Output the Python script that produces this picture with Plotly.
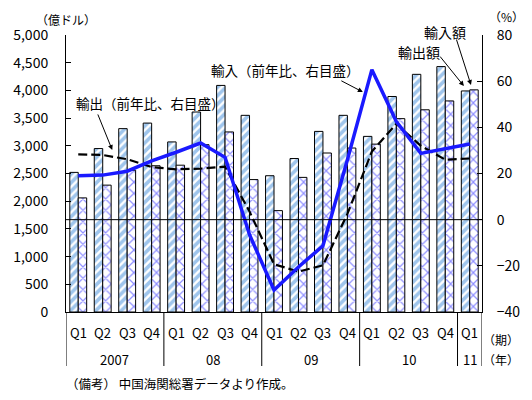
import plotly.graph_objects as go

# ---- data ----
quarters = ["Q1", "Q2", "Q3", "Q4"] * 4 + ["Q1"]
years = ["2007", "08", "09", "10", "11"]
export_bn = [2520, 2950, 3310, 3410, 3070, 3610, 4090, 3550, 2460, 2770, 3260, 3550, 3170, 3890, 4290, 4430, 3990]
import_bn = [2060, 2290, 2560, 2640, 2650, 3020, 3250, 2390, 1830, 2430, 2870, 2960, 3030, 3490, 3650, 3810, 4010]
export_yoy = [28.3, 28.0, 26.2, 22.8, 21.8, 22.1, 23.0, 3.5, -19.3, -22.5, -19.8, 2.5, 29.5, 41.5, 32.0, 26.0, 26.5]
import_yoy = [19.0, 19.3, 21.0, 25.5, 29.2, 33.2, 27.0, -6.5, -30.5, -20.5, -11.3, 26.0, 65.0, 42.5, 28.7, 30.8, 32.8]
left_ticks = [0, 500, 1000, 1500, 2000, 2500, 3000, 3500, 4000, 4500, 5000]
left_ticktext = ["0", "500", "1,000", "1,500", "2,000", "2,500", "3,000", "3,500", "4,000", "4,500", "5,000"]
right_ticks = [-40, -20, 0, 20, 40, 60, 80]

FONT = "Noto Sans CJK JP"
xs = list(range(len(quarters)))

# plot box in pixels
L, R, T, B = 66, 486, 35, 312
def px(x):
    return (x - L) / (R - L)
def py(y):
    return (B - y) / (B - T)

fig = go.Figure()
fig.add_trace(go.Bar(
    x=xs, y=export_bn, name="輸出額", yaxis="y",
    marker=dict(color="white", line=dict(color="black", width=1),
                pattern=dict(shape="/", fgcolor="#3F8BD9", bgcolor="white", size=6, solidity=0.6)),
))
fig.add_trace(go.Bar(
    x=xs, y=import_bn, name="輸入額", yaxis="y",
    marker=dict(color="white", line=dict(color="black", width=1),
                pattern=dict(shape="x", fgcolor="#1F1FFF", bgcolor="white", size=8, solidity=0.28)),
))
fig.add_trace(go.Scatter(
    x=xs, y=export_yoy, yaxis="y2", mode="lines", name="輸出(前年比)",
    line=dict(color="black", width=2.2, dash="9px,4px"),
))
fig.add_trace(go.Scatter(
    x=xs, y=import_yoy, yaxis="y2", mode="lines", name="輸入(前年比)",
    line=dict(color="#1A1AFF", width=3.5),
))

shapes = [dict(type="line", xref="paper", yref="y2", x0=0, x1=1, y0=0, y1=0,
               line=dict(color="black", width=1), layer="above")]
for sx in [-0.5, 3.5, 7.5, 11.5, 15.5, 16.5]:
    shapes.append(dict(type="line", xref="x", yref="paper", x0=sx, x1=sx,
                       y0=0, y1=py(366), line=dict(color="black", width=1)))

ann = []
for i, q in enumerate(quarters):
    ann.append(dict(x=i, y=py(332), xref="x", yref="paper", text=q, showarrow=False,
                    xanchor="center", yanchor="middle",
                    font=dict(size=13, family=FONT, color="black")))
year_pos = [1.5, 5.5, 9.5, 13.5, 16]
for yx, yt in zip(year_pos, years):
    ann.append(dict(x=yx, y=py(359), xref="x", yref="paper", text=yt, showarrow=False,
                    xanchor="center", yanchor="middle",
                    font=dict(size=13, family=FONT, color="black")))

def text(xp, yp, t, size=13, xanchor="center"):
    ann.append(dict(x=px(xp), y=py(yp), xref="paper", yref="paper", text=t, showarrow=False,
                    xanchor=xanchor, yanchor="middle",
                    font=dict(size=size, family=FONT, color="black")))

text(66, 20, "（億ドル）", 12)
text(511, 17, "（%）", 12)
text(505, 339, "（期）", 12)
text(505, 359, "（年）", 12)
text(151, 103, "輸出（前年比、右目盛）", 13.5)
text(288, 70, "輸入（前年比、右目盛）", 13.5)
text(449, 32, "輸入額", 14)
text(422, 52, "輸出額", 14)
text(64, 383, "（備考） 中国海関総署データより作成。", 12.5, xanchor="left")

def arrow(x_tip, y_tip, yref, ax, ay):
    ann.append(dict(x=x_tip, y=y_tip, xref="x", yref=yref, text="", showarrow=True,
                    ax=ax, ay=ay, arrowhead=2, arrowsize=1, arrowwidth=1, arrowcolor="black"))

arrow(1.39, 30.2, "y2", -15, -37)
arrow(11.63, 55.3, "y2", -23, -12)
arrow(16.05, 4097, "y", -15, -47)
arrow(15.76, 4079, "y", -25, -31)

fig.update_layout(
    width=532, height=400,
    margin=dict(l=L, r=532 - R, t=T, b=400 - B),
    paper_bgcolor="white", plot_bgcolor="white",
    showlegend=False,
    barmode="group", bargap=0.31, bargroupgap=0,
    font=dict(family=FONT, size=13, color="black"),
    xaxis=dict(range=[-0.5, 16.5], showticklabels=False, ticks="", showgrid=False,
               zeroline=False, showline=True, linecolor="black", linewidth=1),
    yaxis=dict(range=[0, 5000], tickvals=left_ticks, ticktext=left_ticktext,
               ticks="inside", ticklen=5, tickcolor="black", showgrid=False, zeroline=False,
               showline=True, linecolor="black", linewidth=1, ticklabelstandoff=14,
               tickfont=dict(size=14, family=FONT)),
    yaxis2=dict(range=[-40, 80], tickvals=right_ticks, overlaying="y", side="right",
                ticks="inside", ticklen=5, tickcolor="black", showgrid=False, zeroline=False,
                showline=True, linecolor="black", linewidth=1, ticklabelstandoff=11,
                tickfont=dict(size=14, family=FONT)),
    annotations=ann, shapes=shapes,
)

fig.write_html("out.html")
